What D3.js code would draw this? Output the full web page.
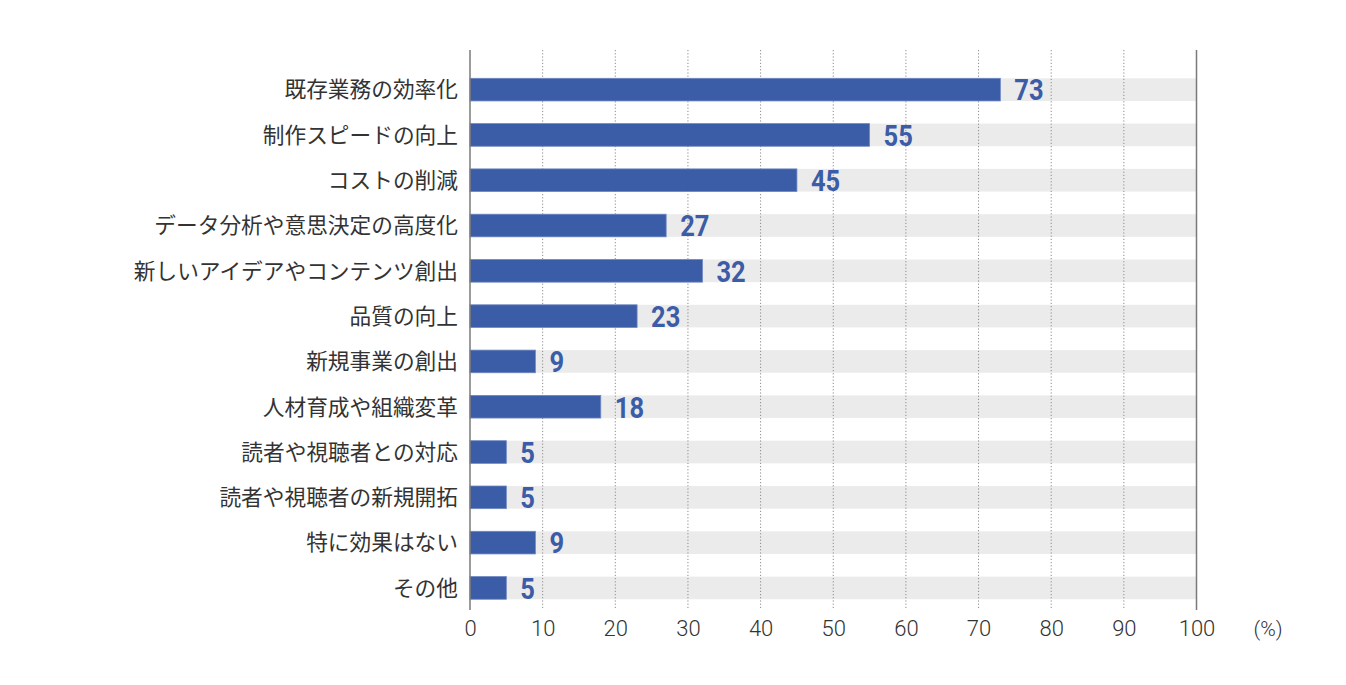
<!DOCTYPE html>
<html>
<head>
<meta charset="utf-8">
<script src="https://cdn.jsdelivr.net/npm/d3@7"></script>
<style>
  body { margin: 0; background: #fff; }
  svg { display: block; }
</style>
</head>
<body>
<script>
// data
var categories = [
  "既存業務の効率化",
  "制作スピードの向上",
  "コストの削減",
  "データ分析や意思決定の高度化",
  "新しいアイデアやコンテンツ創出",
  "品質の向上",
  "新規事業の創出",
  "人材育成や組織変革",
  "読者や視聴者との対応",
  "読者や視聴者の新規開拓",
  "特に効果はない",
  "その他"
];
var values = [73, 55, 45, 27, 32, 23, 9, 18, 5, 5, 9, 5];
var ticks = [0, 10, 20, 30, 40, 50, 60, 70, 80, 90, 100];
var unitLabel = "(%)";

var width = 1346;
var height = 685;
var plotLeft = 470;
var plotRight = 1196.5;
var plotTop = 50;
var plotBottom = 610;

var barColor = "#3b5ca6";
var bandColor = "#ebebeb";

var data = categories.map(function(c, i) { return { name: c, value: values[i] }; });

var svg = d3.select("body").append("svg")
  .attr("width", width)
  .attr("height", height);

var xScale = d3.scaleLinear()
  .domain([0, 100])
  .range([plotLeft, plotRight]);

var yScale = d3.scaleBand()
  .domain(categories)
  .range([55.65, 621.9])
  .padding(0.5);

// gray background bands
svg.append("g").selectAll("rect")
  .data(data)
  .enter()
    .append("rect")
    .attr("x", xScale(0))
    .attr("y", d => yScale(d.name))
    .attr("width", xScale(100) - xScale(0))
    .attr("height", yScale.bandwidth())
    .attr("fill", bandColor);

// dotted grid lines
svg.append("g").selectAll("line")
  .data(ticks.filter(t => t > 0 && t < 100))
  .enter()
    .append("line")
    .attr("x1", d => xScale(d))
    .attr("x2", d => xScale(d))
    .attr("y1", plotTop)
    .attr("y2", plotBottom)
    .attr("stroke", "#8c8c8c")
    .attr("stroke-width", 1)
    .attr("stroke-dasharray", "1.2,2");

// bars
svg.append("g").selectAll("rect")
  .data(data)
  .enter()
    .append("rect")
    .attr("x", xScale(0))
    .attr("y", d => yScale(d.name))
    .attr("width", d => xScale(d.value) - xScale(0))
    .attr("height", yScale.bandwidth())
    .attr("fill", barColor)
    .attr("stroke", "#6f88c2")
    .attr("stroke-width", 0.8);

// solid lines at 0 and 100
svg.append("g").selectAll("line")
  .data([0, 100])
  .enter()
    .append("line")
    .attr("x1", d => xScale(d))
    .attr("x2", d => xScale(d))
    .attr("y1", plotTop)
    .attr("y2", plotBottom)
    .attr("stroke", "#7a7a7a")
    .attr("stroke-width", 1.5);

// value labels (condensed look by squeezing horizontally)
svg.append("g").selectAll("text")
  .data(data)
  .enter()
    .append("text")
    .attr("transform", d => "translate(" + (xScale(d.value) + 14) + "," + (yScale(d.name) + yScale.bandwidth() / 2) + ") scale(0.85,1)")
    .attr("dy", "0.36em")
    .attr("fill", barColor)
    .style("font-family", "Roboto, sans-serif")
    .style("font-weight", "bold")
    .style("font-size", "30px")
    .text(d => d.value);

// category labels
svg.append("g").selectAll("text")
  .data(data)
  .enter()
    .append("text")
    .attr("x", 458)
    .attr("y", d => yScale(d.name) + yScale.bandwidth() / 2)
    .attr("dy", "0.36em")
    .attr("text-anchor", "end")
    .attr("fill", "#333")
    .style("font-family", "'Noto Sans CJK JP', sans-serif")
    .style("font-size", "21.7px")
    .text(d => d.name);

// x axis
var xAxis = d3.axisBottom(xScale)
  .tickValues(ticks)
  .tickSize(0)
  .tickPadding(0);

var axisG = svg.append("g")
  .attr("transform", "translate(0," + 636 + ")")
  .call(xAxis);
axisG.select(".domain").remove();
axisG.selectAll("text")
  .attr("dy", 0)
  .attr("fill", "#333")
  .style("font-family", "Roboto, sans-serif")
  .style("font-weight", "300")
  .style("font-size", "22px");

svg.append("text")
  .attr("x", 1268)
  .attr("y", 636)
  .attr("text-anchor", "middle")
  .attr("fill", "#333")
  .style("font-family", "Roboto, sans-serif")
  .style("font-weight", "300")
  .style("font-size", "21px")
  .text(unitLabel);
</script>
</body>
</html>
